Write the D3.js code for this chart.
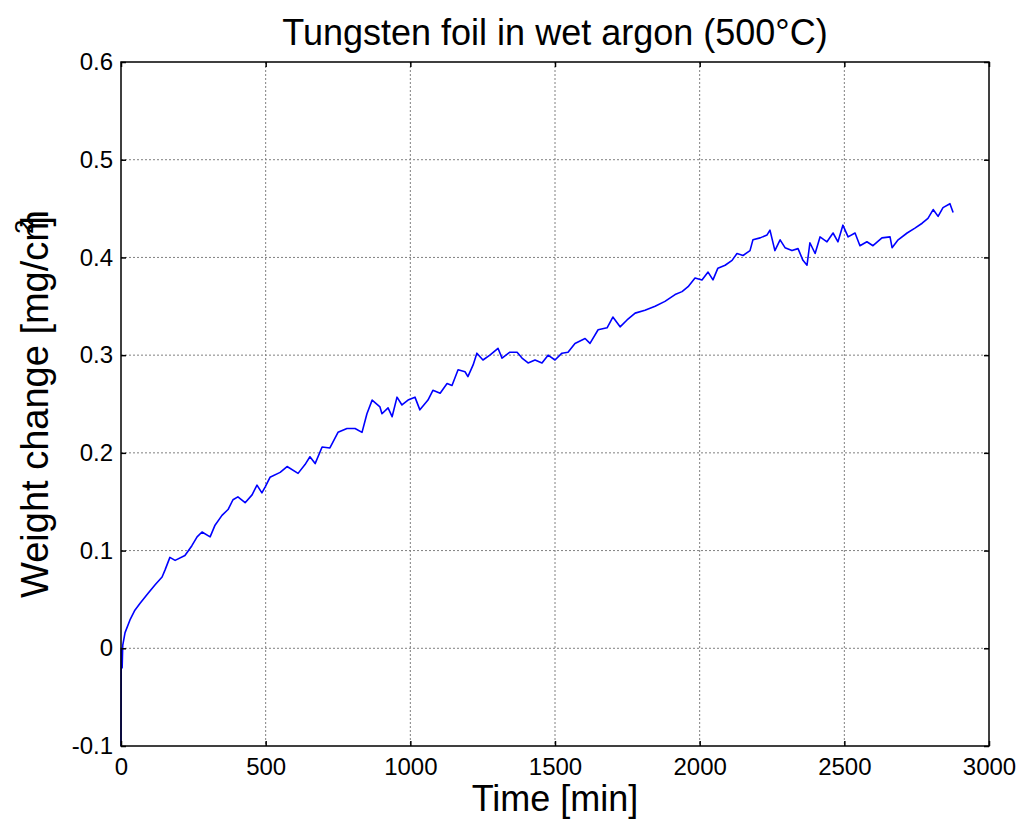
<!DOCTYPE html>
<html>
<head>
<meta charset="utf-8">
<script src="https://cdn.jsdelivr.net/npm/d3@7"></script>
<style>
  body { margin: 0; background: #fff; }
  svg { display: block; font-family: "Liberation Sans", Arial, sans-serif; }
</style>
</head>
<body>
<svg id="chart" width="1022" height="830"></svg>
<script>
'use strict';

// Time [min] and weight change [mg/cm2]
var timeMin = [
  0, 0.5, 1, 4, 6, 14, 31, 48, 66, 93, 118, 142, 152, 169, 187, 221, 245, 263, 280, 308,
  325, 349, 370, 387, 404, 429, 453, 470, 487, 498, 515, 550, 574, 612, 636, 653, 671, 695,
  722, 750, 781, 809, 833, 850, 868, 895, 902, 923, 937, 954, 971, 992, 1016, 1033, 1061,
  1078, 1103, 1127, 1144, 1165, 1189, 1199, 1217, 1230, 1251, 1275, 1303, 1317, 1344, 1369,
  1386, 1407, 1431, 1455, 1476, 1500, 1524, 1545, 1569, 1604, 1621, 1649, 1680, 1700, 1725,
  1749, 1777, 1811, 1846, 1880, 1915, 1939, 1960, 1984, 2008, 2029, 2046, 2063, 2088, 2112,
  2129, 2150, 2174, 2184, 2209, 2233, 2243, 2260, 2278, 2295, 2319, 2340, 2357, 2371, 2381,
  2399, 2416, 2440, 2461, 2478, 2495, 2513, 2537, 2554, 2578, 2599, 2630, 2658, 2665, 2686,
  2717, 2744, 2769, 2789, 2807, 2824, 2841, 2865, 2876
];
var weightChange = [
  -0.1, -0.03, 0.0, -0.02, 0.003, 0.016, 0.029, 0.039, 0.046, 0.056, 0.065, 0.073, 0.080,
  0.093, 0.090, 0.095, 0.105, 0.114, 0.119, 0.114, 0.126, 0.136, 0.142, 0.152, 0.155, 0.149,
  0.157, 0.167, 0.159, 0.165, 0.175, 0.180, 0.186, 0.179, 0.188, 0.196, 0.189, 0.206, 0.205,
  0.221, 0.225, 0.225, 0.221, 0.240, 0.254, 0.247, 0.240, 0.246, 0.237, 0.257, 0.249, 0.254,
  0.257, 0.244, 0.254, 0.264, 0.261, 0.271, 0.269, 0.285, 0.283, 0.278, 0.290, 0.302, 0.295,
  0.300, 0.307, 0.297, 0.303, 0.303, 0.297, 0.292, 0.295, 0.292, 0.300, 0.295, 0.302, 0.303,
  0.312, 0.317, 0.312, 0.326, 0.328, 0.339, 0.329, 0.336, 0.343, 0.346, 0.350, 0.355, 0.362,
  0.365, 0.370, 0.379, 0.377, 0.385, 0.377, 0.389, 0.392, 0.397, 0.404, 0.402, 0.407, 0.418,
  0.420, 0.423, 0.428, 0.407, 0.418, 0.410, 0.407, 0.409, 0.397, 0.392, 0.415, 0.404, 0.421,
  0.416, 0.425, 0.416, 0.433, 0.421, 0.425, 0.412, 0.416, 0.412, 0.420, 0.421, 0.410, 0.418,
  0.425, 0.430, 0.435, 0.440, 0.449, 0.442, 0.451, 0.455, 0.446
];

var xTicks = [0, 500, 1000, 1500, 2000, 2500, 3000];
var xTickLabels = ['0', '500', '1000', '1500', '2000', '2500', '3000'];
var yTicks = [-0.1, 0, 0.1, 0.2, 0.3, 0.4, 0.5, 0.6];
var yTickLabels = ['-0.1', '0', '0.1', '0.2', '0.3', '0.4', '0.5', '0.6'];

var titleText = 'Tungsten foil in wet argon (500\u00B0C)';
var xLabelText = 'Time [min]';

var margin = {left: 121, right: 33, top: 62, bottom: 84};
var width = 1022 - margin.left - margin.right;
var height = 830 - margin.top - margin.bottom;
var tickLen = 5;

var svg = d3.select('#chart');

var x = d3.scaleLinear().domain([0, 3000]).range([0, width]);
var y = d3.scaleLinear().domain([-0.1, 0.6]).range([height, 0]);

var g = svg.append('g')
  .attr('transform', 'translate(' + margin.left + ',' + margin.top + ')');

// grid lines (dotted, like matlab)
g.append('g').selectAll('line.gx')
  .data(xTicks.slice(1, -1))
  .enter().append('line')
    .attr('x1', function(d){ return x(d); })
    .attr('x2', function(d){ return x(d); })
    .attr('y1', 0).attr('y2', height)
    .attr('stroke', '#808080')
    .attr('stroke-width', 1)
    .attr('stroke-dasharray', '2,2');
g.append('g').selectAll('line.gy')
  .data(yTicks.slice(1, -1))
  .enter().append('line')
    .attr('y1', function(d){ return y(d); })
    .attr('y2', function(d){ return y(d); })
    .attr('x1', 0).attr('x2', width)
    .attr('stroke', '#808080')
    .attr('stroke-width', 1)
    .attr('stroke-dasharray', '2,2');

// the measured curve
var line = d3.line()
  .x(function(d){ return x(d[0]); })
  .y(function(d){ return y(d[1]); });
g.append('path')
  .datum(d3.zip(timeMin, weightChange))
  .attr('d', line)
  .attr('fill', 'none')
  .attr('stroke', '#0000ff')
  .attr('stroke-width', 1.6)
  .attr('stroke-linejoin', 'round');

// axes: inward ticks on all four sides
var xBottom = d3.axisBottom(x).tickValues(xTicks).tickSizeInner(-tickLen).tickSizeOuter(0)
  .tickFormat(function(d, i){ return xTickLabels[i]; }).tickPadding(12);
var xTop = d3.axisTop(x).tickValues(xTicks).tickSizeInner(-tickLen).tickSizeOuter(0)
  .tickFormat('');
var yLeft = d3.axisLeft(y).tickValues(yTicks).tickSizeInner(-tickLen).tickSizeOuter(0)
  .tickFormat(function(d, i){ return yTickLabels[i]; }).tickPadding(8);
var yRight = d3.axisRight(y).tickValues(yTicks).tickSizeInner(-tickLen).tickSizeOuter(0)
  .tickFormat('');

function styleAxis(sel) {
  sel.select('.domain').remove();
  sel.selectAll('.tick line').attr('stroke', '#000').attr('stroke-width', 1.5);
  sel.selectAll('.tick text')
    .attr('fill', '#000')
    .style('font-size', '24px')
    .style('font-family', '"Liberation Sans", Arial, sans-serif');
}

g.append('g').attr('transform', 'translate(0,' + height + ')').call(xBottom).call(styleAxis);
g.append('g').call(xTop).call(styleAxis);
g.append('g').call(yLeft).call(styleAxis);
g.append('g').attr('transform', 'translate(' + width + ',0)').call(yRight).call(styleAxis);

// box
g.append('rect')
  .attr('x', 0).attr('y', 0)
  .attr('width', width).attr('height', height)
  .attr('fill', 'none')
  .attr('stroke', '#000')
  .attr('stroke-width', 1.5);

// title and axis labels
svg.append('text')
  .attr('x', margin.left + width / 2)
  .attr('y', 45)
  .attr('text-anchor', 'middle')
  .style('font-size', '36px')
  .text(titleText);

svg.append('text')
  .attr('x', margin.left + width / 2)
  .attr('y', 811)
  .attr('text-anchor', 'middle')
  .style('font-size', '36px')
  .text(xLabelText);

var yl = svg.append('text')
  .attr('transform', 'translate(48,' + (margin.top + height / 2) + ')rotate(-90)')
  .attr('text-anchor', 'middle')
  .style('font-size', '38px');
yl.append('tspan').text('Weight change [mg/cm');
yl.append('tspan').attr('dy', -15).attr('dx', -24).style('font-size', '26px').text('2');
yl.append('tspan').attr('dy', 15).attr('dx', -7).text(']');
</script>
</body>
</html>
